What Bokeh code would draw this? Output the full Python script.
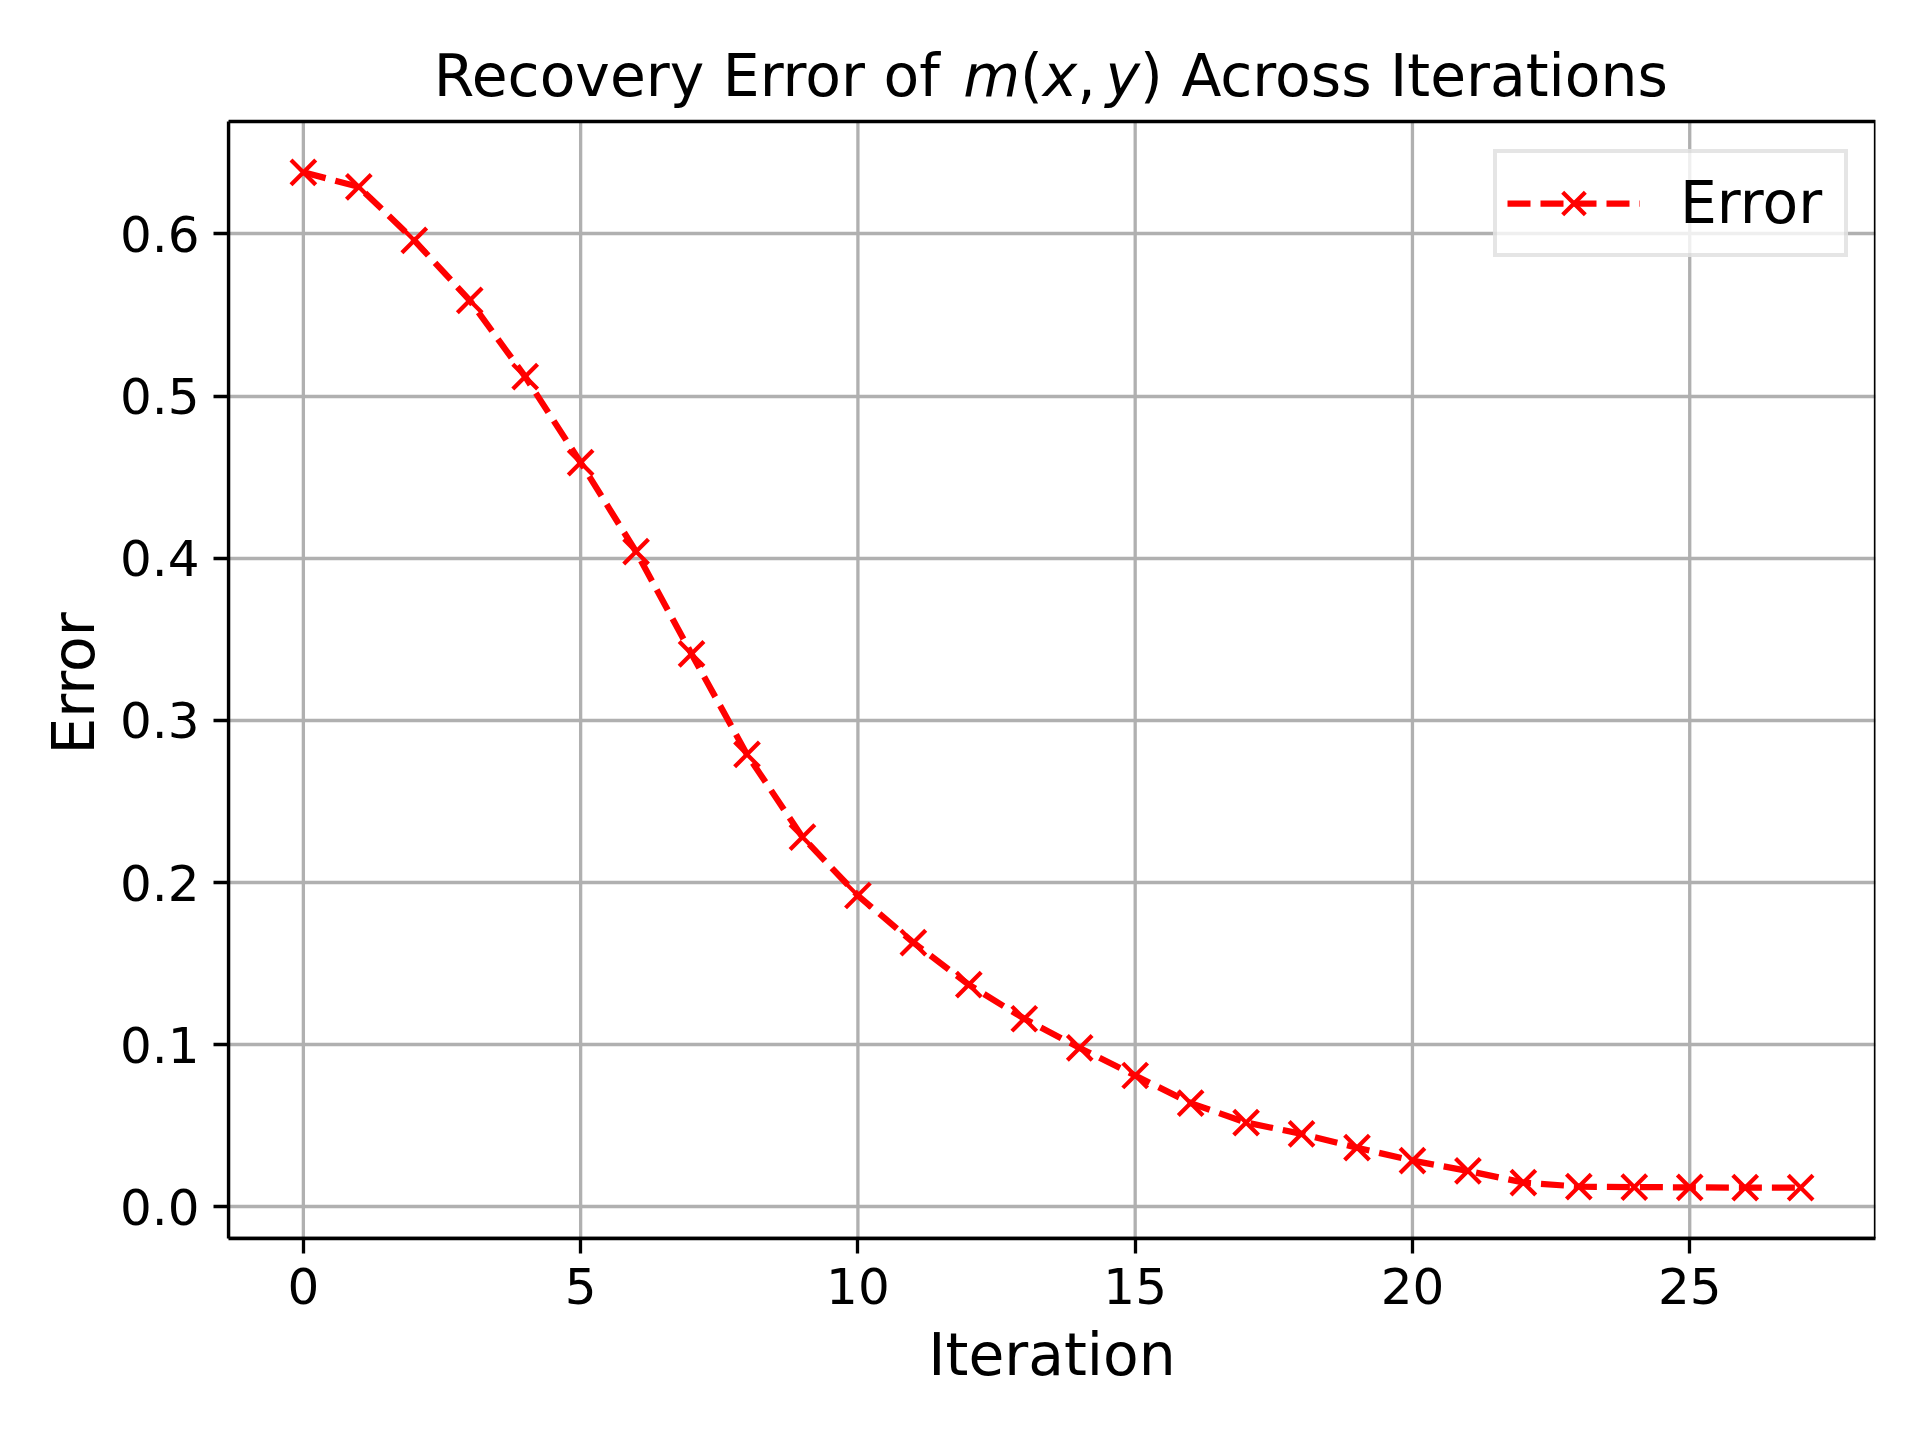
from bokeh.plotting import figure
from bokeh.models import Range1d, FixedTicker, Legend, LegendItem, PrintfTickFormatter, Title
from bokeh.core.properties import value
from bokeh.embed import file_html
from bokeh.resources import INLINE

# ---------------- data ----------------
iterations = list(range(28))
errors = [0.638, 0.629, 0.596, 0.559, 0.512, 0.459, 0.404, 0.341, 0.279, 0.228,
          0.192, 0.163, 0.137, 0.116, 0.098, 0.081, 0.064, 0.052, 0.045, 0.0365,
          0.0285, 0.0222, 0.015, 0.0125, 0.0122, 0.012, 0.0119, 0.0118]
x_ticks = [0, 5, 10, 15, 20, 25]
y_ticks = [0.0, 0.1, 0.2, 0.3, 0.4, 0.5, 0.6]
series_name = "Error"
x_label = "Iteration"
y_label = "Error"
# title pieces: (text, style)
title_parts = [("Recovery Error of ", "normal"), ("m", "italic"), ("(", "normal"),
               ("x", "italic"), (",", "normal"), ("y", "italic"),
               (")", "normal"), (" Across Iterations", "normal")]

FONT = "DejaVu Sans"
W, H = 1904, 1424
BL, BR, BB = 228, 29, 186
PT = 121                      # top of the boxed plot area, px from canvas top
FH = H - BB                   # frame height (frame reaches the canvas top)
TITLE_BASE = 75               # title baseline position parameter, px from canvas top

# matplotlib-like 5% margins
xmin, xmax = min(iterations), max(iterations)
ymin, ymax = min(errors), max(errors)
xlo, xhi = xmin - (xmax - xmin) * 0.05, xmax + (xmax - xmin) * 0.05
ylo, yhi = ymin - (ymax - ymin) * 0.05, ymax + (ymax - ymin) * 0.05
ppu = (FH - PT) / (yhi - ylo)          # px per y unit
ppx = (W - BL - BR) / (xhi - xlo)      # px per x unit
ytop = yhi + PT / ppu

p = figure(width=W, height=H, output_backend="svg", toolbar_location=None,
           x_range=Range1d(xlo, xhi), y_range=Range1d(ylo, ytop),
           min_border_left=BL, min_border_right=BR, min_border_top=0, min_border_bottom=BB)
p.title.text = ""
p.background_fill_color = "white"
p.border_fill_color = "white"
p.outline_line_color = None

for ax in (p.xaxis[0], p.yaxis[0]):
    ax.axis_line_width = 3.3
    ax.major_tick_line_width = 3.3
    ax.major_tick_in = 0
    ax.major_tick_out = 15
    ax.minor_tick_line_color = None
    ax.major_label_text_font = FONT
    ax.major_label_text_font_size = "50px"
    ax.major_label_text_color = "black"
    ax.axis_label_text_font = FONT
    ax.axis_label_text_font_size = "58.3px"
    ax.axis_label_text_font_style = "normal"
    ax.axis_label_text_color = "black"
    ax.major_label_standoff = 14

p.xaxis.ticker = FixedTicker(ticks=x_ticks)
p.yaxis.ticker = FixedTicker(ticks=y_ticks)
p.yaxis.bounds = (ylo, yhi)
p.yaxis.formatter = PrintfTickFormatter(format="%.1f")
p.xaxis.axis_label = x_label
p.xaxis.axis_label_standoff = 14

# y-axis label as a side title, placed along the boxed plot area
ylab = Title(text=y_label, align="left", offset=484, standoff=18,
             text_font=FONT, text_font_size="58.3px", text_font_style="normal",
             text_color="black")
p.add_layout(ylab, "left")

p.ygrid.ticker = FixedTicker(ticks=y_ticks)
p.ygrid.grid_line_color = "#b0b0b0"
p.ygrid.grid_line_width = 3.3
p.xgrid.visible = False
# vertical grid lines limited to the boxed plot area
p.segment(x0=x_ticks, y0=[ylo] * len(x_ticks), x1=x_ticks, y1=[yhi] * len(x_ticks),
          line_color="#b0b0b0", line_width=3.3)

ln = p.line(iterations, errors, line_color="red", line_width=6.25, line_dash="23 10")
sc = p.scatter(iterations, errors, marker="x", size=35, line_color="red", line_width=4.2)

# box around the plot area (spines)
p.quad(left=[xlo], right=[xhi], bottom=[ylo], top=[yhi], fill_color=None,
       line_color="black", line_width=3.3)

legend = Legend(items=[LegendItem(label=series_name, renderers=[ln, sc])],
                location=(1493 - BL, FH - 257))
legend.padding = 10
legend.glyph_width = 133
legend.glyph_height = 80
legend.label_height = 80
legend.label_width = 154
legend.label_standoff = 40
legend.label_text_font = FONT
legend.label_text_font_size = "58.3px"
legend.label_text_color = "black"
legend.border_line_color = "#cccccc"
legend.border_line_width = 4
legend.background_fill_color = "white"
legend.background_fill_alpha = 0.8
p.add_layout(legend)

# ---------------- title (mixed upright / italic text) ----------------
fs = 58.33
adv = {"R": 1423, "e": 1260, "c": 1126, "o": 1253, "v": 1212, "r": 842, "y": 1212,
       " ": 651, "E": 1294, "f": 721, "A": 1401, "s": 1067, "I": 604, "t": 803,
       "a": 1255, "i": 569, "n": 1298, "m": 1995, "x": 1212, "(": 799, ")": 799, ",": 651}

def width(s):
    return sum(adv[c] for c in s) / 2048.0 * fs

thin = fs / 6.0
gaps = [thin if s == "," else 0.0 for s, _ in title_parts]
total = sum(width(s) for s, _ in title_parts) + sum(gaps)
center_px = BL + (W - BL - BR) / 2.0
cur = center_px - total / 2.0
xs = {"normal": [], "italic": []}
ts = {"normal": [], "italic": []}
for (s, style), g in zip(title_parts, gaps):
    lead = len(s) - len(s.lstrip(" "))
    px = cur + width(" ") * lead
    xs[style].append(xlo + (px - BL) / ppx)
    ts[style].append(s.strip(" "))
    cur += width(s) + g
title_y = yhi + (PT - TITLE_BASE) / ppu
for style in ("normal", "italic"):
    p.text(x=xs[style], y=[title_y] * len(xs[style]), text=ts[style],
           text_font=value(FONT), text_font_size=f"{fs}px", text_font_style=style,
           text_color="black", text_align="left", text_baseline="alphabetic")

open("out.html", "w").write(file_html(p, INLINE))
